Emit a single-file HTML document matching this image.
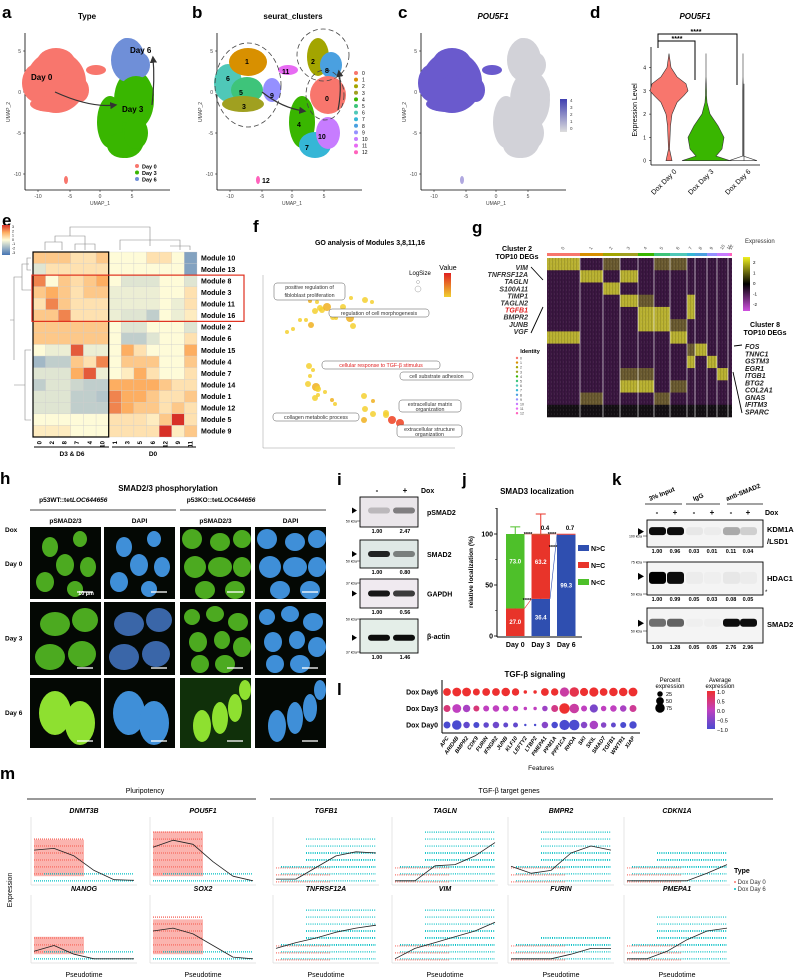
<!DOCTYPE html>
<html><head><meta charset="utf-8"><style>
html,body{margin:0;padding:0;background:#fff}
svg{display:block;font-family:"Liberation Sans",Arial,sans-serif}
.pl{font-size:17px;font-weight:bold}
.t8{font-size:8px;font-weight:bold}
.it{font-style:italic}
</style></head><body>
<svg id="fig" width="799" height="980" viewBox="0 0 799 980" xmlns="http://www.w3.org/2000/svg">
<defs>
<pattern id="noise" width="3" height="4" patternUnits="userSpaceOnUse"><rect x="0" y="0" width="1" height="4" fill="#000" opacity="0.25"/><rect x="2" y="1" width="1" height="2" fill="#fff" opacity="0.12"/></pattern>
<linearGradient id="gBlueRed" x1="0" y1="1" x2="0" y2="0"><stop offset="0" stop-color="#4575b4"/><stop offset="0.5" stop-color="#fefbd8"/><stop offset="0.75" stop-color="#fdae61"/><stop offset="1" stop-color="#d73027"/></linearGradient>
<linearGradient id="gPur" x1="0" y1="1" x2="0" y2="0"><stop offset="0" stop-color="#ddd"/><stop offset="1" stop-color="#3f3fb0"/></linearGradient>
<linearGradient id="gYel" x1="0" y1="1" x2="0" y2="0"><stop offset="0" stop-color="#f0d030"/><stop offset="1" stop-color="#e02020"/></linearGradient>
<linearGradient id="gExp" x1="0" y1="1" x2="0" y2="0"><stop offset="0" stop-color="#d050e0"/><stop offset="0.5" stop-color="#000"/><stop offset="1" stop-color="#f0f020"/></linearGradient>
<linearGradient id="gAvg" x1="0" y1="1" x2="0" y2="0"><stop offset="0" stop-color="#4b4bd0"/><stop offset="0.5" stop-color="#c040c0"/><stop offset="1" stop-color="#ee3030"/></linearGradient>
<marker id="arr" markerWidth="6" markerHeight="6" refX="4" refY="3" orient="auto"><path d="M0,0 L6,3 L0,6 z" fill="#333"/></marker>
</defs>

<text class="pl" x="2" y="18">a</text>
<text class="pl" x="192" y="18">b</text>
<text class="pl" x="398" y="18">c</text>
<text class="pl" x="590" y="18">d</text>
<text class="pl" x="2" y="226">e</text>
<text class="pl" x="253" y="232">f</text>
<text class="pl" x="472" y="233">g</text>
<text class="pl" x="0" y="484">h</text>
<text class="pl" x="337" y="485">i</text>
<text class="pl" x="462" y="485">j</text>
<text class="pl" x="612" y="485">k</text>
<text class="pl" x="337" y="695">l</text>
<text class="pl" x="0" y="779">m</text>

<text class="t8" x="87" y="19" text-anchor="middle">Type</text>
<text class="t8" x="293" y="19" text-anchor="middle">seurat_clusters</text>
<text class="t8 it" x="493" y="19" text-anchor="middle">POU5F1</text>
<text class="t8 it" x="695" y="19" text-anchor="middle">POU5F1</text>

<g id="umaps"></g>
<g id="violin"></g>
<g id="heatE"></g>
<g id="goF"></g>
<g id="heatG"></g>
<g id="imgH"></g>
<g id="blotI"></g>
<g id="chartJ"></g>
<g id="blotK"></g>
<g id="dotL"></g>
<g id="panelM"></g>
</svg>
<script>
const NS='http://www.w3.org/2000/svg';
function mk(tag,attrs,parent){const e=document.createElementNS(NS,tag);for(const k in attrs)e.setAttribute(k,attrs[k]);(parent||document.getElementById('fig')).appendChild(e);return e;}
function tx(s,x,y,size,parent,extra){const e=mk('text',Object.assign({x:x,y:y,'font-size':size},extra||{}),parent);e.textContent=s;return e;}

/* ===== UMAP panels a,b,c ===== */
const U=document.getElementById('umaps');
const clusterNames=['0','1','2','3','4','5','6','7','8','9','10','11','12'];
const clusterColors=['#f8766d','#d89000','#a3a500','#a0a020','#39b600','#3ec47a','#4fc8b8','#35b6d6','#4aa0e0','#9590ff','#c77cff','#e76bf3','#ff62bc'];
const blobs=[[228,83,14,19,6],[248,62,19,14,1],[247,90,16,13,5],[243,104,21,8,3],[272,90,9,12,9],[288,70,10,5,11],[318,57,11,19,2],[331,65,11,13,8],[328,95,18,19,0],[302,122,13,26,4],[315,145,16,13,7],[328,133,12,16,10],[258,180,2,4,12]];
const blobDay=[0,0,0,0,0,0,2,2,1,1,1,1,0];
const dayColors=['#f8766d','#39b600','#6f8fd8'];
// underlay shapes: [cx,cy,rx,ry,day]
const under=[[248,82,30,31,0],[326,100,20,30,1],[318,140,18,18,1],[320,60,17,22,2],[298,125,8,20,2]];
function umapAxes(ox,name){
  const g=mk('g',{},U);
  
  
  mk('line',{x1:ox,y1:33,x2:ox,y2:190,stroke:'#000','stroke-width':0.8},g);
  mk('line',{x1:ox,y1:190,x2:ox+145,y2:190,stroke:'#000','stroke-width':0.8},g);
  const yt=[['5',51],['0',92],['-5',133],['-10',174]];
  yt.forEach(t=>{mk('line',{x1:ox-2,y1:t[1],x2:ox,y2:t[1],stroke:'#000','stroke-width':0.5},g);tx(t[0],ox-4,t[1]+2,5,g,{'text-anchor':'end',fill:'#444'});});
  const xt=[['-10',13],['-5',45],['0',75],['5',107]];
  xt.forEach(t=>{mk('line',{x1:ox+t[1],y1:190,x2:ox+t[1],y2:192,stroke:'#000','stroke-width':0.5},g);tx(t[0],ox+t[1],198,5,g,{'text-anchor':'middle',fill:'#444'});});
  tx('UMAP_1',ox+75,205,5,g,{'text-anchor':'middle',fill:'#444'});
  tx('UMAP_2',0,0,5,g,{'text-anchor':'middle',fill:'#444',transform:'translate('+(ox-15)+',112) rotate(-90)'});
}
function exprCol(day){return day===0?'#6a5acd':'#d2d2d8';}
function drawBlobs(ox,mode){
  if(mode!=='cluster'){
    under.forEach(u=>{
      const e=mk('ellipse',{cx:u[0]+ox,cy:u[1],rx:u[2],ry:u[3],fill:mode==='type'?dayColors[u[4]]:exprCol(u[4])},U);
      
      
    });
  }
  blobs.forEach((b,i)=>{
    let col;
    if(mode==='type')col=dayColors[blobDay[i]];
    else if(mode==='cluster')col=clusterColors[b[4]];
    else col=b[4]===12?'#b0a8e0':exprCol(blobDay[i]);
    const e=mk('ellipse',{cx:b[0]+ox,cy:b[1],rx:b[2],ry:b[3],fill:col},U);
    
    
  });
}
umapAxes(25,'umap-type');
drawBlobs(-192,'type');
let ar=mk('path',{d:'M55,92 Q90,108 115,105',fill:'none',stroke:'#333','stroke-width':1.2,'marker-end':'url(#arr)'},U);


ar=mk('path',{d:'M152,105 Q155,80 153,58',fill:'none',stroke:'#333','stroke-width':1.2,'marker-end':'url(#arr)'},U);


[['Day 0',31,80],['Day 6',130,53],['Day 3',122,112]].forEach(d=>{const t=tx(d[0],d[1],d[2],8,U,{'font-weight':'bold'});});
['Day 0','Day 3','Day 6'].forEach((d,i)=>{
  const c=mk('circle',{cx:137,cy:166+i*6.5,r:2,fill:dayColors[i]},U);
  
  
  const t=tx(d,142,168.5+i*6.5,5.5,U,{'font-weight':'bold'});
  
  
});
umapAxes(217,'umap-clusters');
drawBlobs(0,'cluster');
[[248,85,33,42],[323,55,26,26],[325,95,19,25]].forEach(c=>{const e=mk('ellipse',{cx:c[0],cy:c[1],rx:c[2],ry:c[3],fill:'none',stroke:'#444','stroke-width':0.8,'stroke-dasharray':'5 3'},U);});
ar=mk('path',{d:'M262,92 Q282,108 304,111',fill:'none',stroke:'#333','stroke-width':1.2,'marker-end':'url(#arr)'},U);


ar=mk('path',{d:'M338,110 Q342,90 339,72',fill:'none',stroke:'#333','stroke-width':1.2,'marker-end':'url(#arr)'},U);


[['1',245,64],['6',226,81],['5',239,95],['3',242,109],['9',270,98],['11',282,74],['2',311,64],['8',325,73],['0',325,101],['4',297,127],['7',305,150],['10',318,139],['12',262,183]].forEach(l=>{const t=tx(l[0],l[1],l[2],7,U,{'font-weight':'bold'});});
clusterNames.forEach((n,i)=>{
  const c=mk('circle',{cx:356,cy:73+i*6.6,r:2,fill:clusterColors[i]},U);
  
  
  const t=tx(n,362,75+i*6.6,5,U);
  
  
});
umapAxes(421,'umap-pou5f1');
drawBlobs(204,'expr');
let cb=mk('rect',{x:560,y:99,width:7,height:33,fill:'url(#gPur)'},U);


['4','3','2','1','0'].forEach((s,i)=>{const t=tx(s,570,102+i*7,4.5,U,{fill:'#444'});});

/* ===== Violin d ===== */
const V=document.getElementById('violin');
const vGroups=['Dox Day 0','Dox Day 3','Dox Day 6'];
const vColors=['#f8766d','#39b600','#619cff'];
const vLevels=[0,0.2,0.5,1,1.5,2,2.5,2.8,3,3.3,3.6,4,4.6];
const vWidth0=[3,2,0.5,1,1.5,3,8,15,19,17,8,2,0];
const vWidth1=[24,10,16,18,12,4,1,0.5,0.5,0.3,0,0,0];
const vWidth2=[14,0.3,0.3,0.3,0.3,0.3,0.3,0.3,0.3,0.2,0,0,0];
const vW=[vWidth0,vWidth1,vWidth2];
const vY=v=>160.7-v*23.3;
const vX=i=>669+i*37;
mk('line',{x1:651,y1:47,x2:651,y2:165,stroke:'#000','stroke-width':0.8},V);
mk('line',{x1:651,y1:165,x2:760,y2:165,stroke:'#000','stroke-width':0.8},V);
[0,1,2,3,4].forEach(v=>{mk('line',{x1:649,y1:vY(v),x2:651,y2:vY(v),stroke:'#000','stroke-width':0.5},V);tx(String(v),646,vY(v)+2,5,V,{'text-anchor':'end'});});
tx('Expression Level',0,0,7,V,{'text-anchor':'middle',transform:'translate(637,110) rotate(-90)'});
vGroups.forEach((g,i)=>{
  const w=vW[i];let d='M'+vX(i)+','+vY(vLevels[0]);
  for(let k=0;k<vLevels.length;k++)d+=' L'+(vX(i)+w[k])+','+vY(vLevels[k]);
  for(let k=vLevels.length-1;k>=0;k--)d+=' L'+(vX(i)-w[k])+','+vY(vLevels[k]);
  const p=mk('path',{d:d+'Z',fill:i===2?'none':vColors[i],stroke:'#333','stroke-width':0.6},V);
  
  
  const t=tx(g,0,0,7,V,{'text-anchor':'end',transform:'translate('+(vX(i)+8)+',172) rotate(-45)'});
  
  
});
mk('line',{x1:744,y1:vY(0),x2:744,y2:vY(3.3),stroke:'#333','stroke-width':0.6},V);
let br=mk('path',{d:'M658,48 L658,41 L695,41 L695,80',fill:'none',stroke:'#000','stroke-width':1},V);


br=mk('path',{d:'M658,41 L658,34 L737,34 L737,85',fill:'none',stroke:'#000','stroke-width':1},V);


tx('****',677,41,7,V,{'text-anchor':'middle','font-weight':'bold'});
tx('****',696,34,7,V,{'text-anchor':'middle','font-weight':'bold'});

/* ===== Heatmap e ===== */
const E=document.getElementById('heatE');
const eCols=['0','2','8','7','4','10','1','3','5','6','12','9','11'];
const eRows=['Module 10','Module 13','Module 8','Module 3','Module 11','Module 16','Module 2','Module 6','Module 15','Module 4','Module 7','Module 14','Module 1','Module 12','Module 5','Module 9'];
const eVals=[
[1,1,1,0.5,0.5,1,0,0,0,0.5,0.5,0,-2],
[-0.5,0.5,0.5,0.5,0.5,0.5,0,0,0,0,0,0,-2],
[2,0,1,0.6,1,1.5,0,-0.5,-0.5,-0.5,0,0,-0.5],
[1,1.5,1,0.5,1,1,-0.3,-0.3,-0.3,-0.3,0,0,0.5],
[0.5,2,1,0.5,0.5,0.5,-0.3,-0.3,-0.3,-0.3,0,-0.3,0.5],
[1,1,2,0.5,0.5,0.5,-0.3,-0.5,-0.5,-1,0,-0.3,0.3],
[1,1,1,1,1,1,0,-0.5,-0.5,0,0,0,-0.5],
[1,1,1,1,1,1,0,-1,-1,-0.5,0,0,0.5],
[0,-0.3,-0.3,2.5,-0.3,-0.3,0,1.5,0.5,0,0,0,1.5],
[-1.5,-1,-1,1,0.5,2,0,1,1,1,0,0,1],
[-0.5,-0.5,-0.5,1.5,2.5,-0.3,0,0.3,1.5,0.5,0,0,0.5],
[-1,-0.5,-0.5,-0.8,-1,-1,1.5,1.5,1.5,1.5,1,0.5,0.5],
[-0.5,-0.5,-0.5,-1,-1,-1.2,2,1.5,1.5,1,0.5,0.5,1],
[-0.5,-0.5,-0.5,-1,-1,-1,2,1.5,1,1,0.5,1,0.5],
[0,0,0,0,0,0,0.5,0.5,0.5,0.3,1,3,0.5],
[0.3,0.3,0.3,0,0,0,0.5,0.5,0.5,0.5,3,0.3,1]];
function lerp(a,b,t){return a.map((v,i)=>Math.round(v+(b[i]-v)*t));}
function heatColor(v){const w=[254,251,216],o=[253,174,97],r=[215,48,39],bl=[69,117,180];let c;
 if(v<0)c=lerp(w,bl,Math.min(1,-v/3));else if(v<1.5)c=lerp(w,o,v/1.5);else c=lerp(o,r,Math.min(1,(v-1.5)/1.5));return 'rgb('+c.join(',')+')';}
const eX0=33,eY0=252,eCW=164/13,eRH=185/16;
eRows.forEach((rn,r)=>{
  eCols.forEach((cn,c)=>{
    const cell=mk('rect',{x:eX0+c*eCW,y:eY0+r*eRH,width:eCW,height:eRH,fill:heatColor(eVals[r][c]),stroke:'#ccc','stroke-width':0.3},E);
    
    
  });
  const t=tx(rn,201,eY0+r*eRH+eRH/2+2.5,7,E,{'font-weight':'bold'});
  
  
});
eCols.forEach((cn,c)=>{const t=tx(cn,0,0,6,E,{'text-anchor':'end','font-weight':'bold',transform:'translate('+(eX0+c*eCW+eCW/2+2)+',441) rotate(-90)'});});
mk('rect',{x:eX0,y:eY0,width:eCW*6,height:eRH*16,fill:'none',stroke:'#000','stroke-width':1.2},E);
let rb=mk('rect',{x:eX0-1,y:eY0+eRH*2,width:245-eX0,height:eRH*4,fill:'none',stroke:'#e0301e','stroke-width':1.2},E);


mk('line',{x1:34,y1:447,x2:109,y2:447,stroke:'#000','stroke-width':1},E);
mk('line',{x1:112,y1:447,x2:196,y2:447,stroke:'#000','stroke-width':1},E);
tx('D3 & D6',72,456,6.5,E,{'text-anchor':'middle','font-weight':'bold'});
tx('D0',153,456,6.5,E,{'text-anchor':'middle','font-weight':'bold'});
mk('path',{d:'M45,250 V242 H62 V250 M55,242 V236 H85 V250 M75,250 V244 H95 V250 M70,236 V227 H150 V240 M120,250 V240 H180 V250 M150,240 V246 M170,246 H190 V250',fill:'none',stroke:'#888','stroke-width':0.6},E);
mk('path',{d:'M31,258 H27 V270 H31 M29,264 H22 V290 H31 M22,277 H14 V360 M31,350 H25 V420 H31 M25,385 H14 M14,320 H10',fill:'none',stroke:'#888','stroke-width':0.6},E);
let ecb=mk('rect',{x:2,y:225,width:8,height:30,fill:'url(#gBlueRed)'},E);


['3','2','1','0','-1','-2','-3'].forEach((s,i)=>tx(s,12,228+i*4.3,3.5,E));

/* ===== GO f ===== */
const F=document.getElementById('goF');
tx('GO analysis of Modules 3,8,11,16',370,245,7,F,{'text-anchor':'middle','font-weight':'bold'});
mk('line',{x1:263,y1:275,x2:263,y2:448,stroke:'#999','stroke-width':0.5},F);
mk('line',{x1:263,y1:448,x2:455,y2:448,stroke:'#999','stroke-width':0.5},F);
const goX=[310,317,320,315,322,327,336,333,300,306,311,293,287,340,343,350,353,351,365,372,392,309,313,310,308,316,318,325,315,318,332,335,365,373,364,364,386,400,392,386,373];
const goY=[301,302,308,311,310,307,318,317,320,320,325,329,332,292,307,318,326,298,300,302,363,366,370,376,384,387,389,392,398,395,400,404,409,414,396,420,413,423,420,415,401];
const goR=[2,2,3,3,3,4,2,3,2,2,3,2,2,2,3,4,3,2,3,2,2,3,2,2,3,4,3,2,3,2,2,2,3,3,3,3,3,4,4,3,2];
goX.forEach((x,i)=>{const c=mk('circle',{cx:x,cy:goY[i],r:goR[i],fill:i===37||i===38?'#ee4020':(i%5===0?'#f0b020':'#f5d030'),opacity:0.85},F);});
const goLabels=[['positive regulation of',274,283,71,17,'fibloblast proliferation','#333'],['regulation of cell morphogenesis',329,309,100,8,'','#333'],['cellular response to TGF-β stimulus',322,361,118,8,'','#e02020'],['cell substrate adhesion',400,372,73,8,'','#333'],['extracellular matrix',399,400,62,12,'organization','#333'],['extracellular structure',397,425,65,12,'organization','#333'],['collagen metabolic process',273,413,86,8,'','#333']];
goLabels.forEach(l=>{
  const r=mk('rect',{x:l[1],y:l[2],width:l[3],height:l[4],rx:3,fill:'#fff',stroke:'#555','stroke-width':0.5},F);
  
  
  tx(l[0],l[1]+l[3]/2,l[2]+6,5.3,F,{'text-anchor':'middle',fill:l[6]});
  if(l[5])tx(l[5],l[1]+l[3]/2,l[2]+(l[4]>12?14:11),5.3,F,{'text-anchor':'middle',fill:l[6]});
});
tx('LogSize',420,275,6,F,{'text-anchor':'middle'});
mk('circle',{cx:418,cy:282,r:1.5,fill:'none',stroke:'#888','stroke-width':0.4},F);
mk('circle',{cx:418,cy:289,r:3,fill:'none',stroke:'#888','stroke-width':0.4},F);
tx('Value',448,270,7,F,{'text-anchor':'middle'});
let fcb=mk('rect',{x:444,y:273,width:7,height:24,fill:'url(#gYel)'},F);



/* ===== Heatmap g ===== */
const G=document.getElementById('heatG');
const gBounds=[547,580,603,620,638,654,670,687,695,707,717,728,730,732];
const gRowsTop=258,gRowsBot=417,gBlocks=13;
const gHigh=[[0,0],[1,1],[1,3],[2,2],[3,3],[3,7],[4,4],[4,5],[5,4],[5,5],[6,0],[6,6],[7,8],[8,9],[9,10],[10,3],[10,4],[4,7],[8,7]];
const gMid=[[0,2],[0,5],[0,6],[5,6],[3,4],[9,4],[9,3],[7,7],[10,6],[11,1],[11,5]];
for(let c=0;c<13;c++){
  for(let b=0;b<gBlocks;b++){
    const yh=(gRowsBot-gRowsTop)/gBlocks;
    let col='#3a1640';
    if(gHigh.some(h=>h[0]===b&&h[1]===c))col='#b8b030';
    else if(gMid.some(h=>h[0]===b&&h[1]===c))col='#6a5a30';
    if(b===12)col='#141014';
    const r=mk('rect',{x:gBounds[c],y:gRowsTop+b*yh,width:gBounds[c+1]-gBounds[c],height:yh+0.3,fill:col},G);
    
    
  }
  const bar=mk('rect',{x:gBounds[c],y:253,width:gBounds[c+1]-gBounds[c],height:3,fill:clusterColors[c]},G);
  
  
  const t=tx(clusterNames[c],0,0,4.5,G,{transform:'translate('+((gBounds[c]+gBounds[c+1])/2)+',250) rotate(-60)',fill:'#444'});
  
  
}
mk('rect',{x:547,y:gRowsTop,width:185,height:gRowsBot-gRowsTop,fill:'url(#noise)',opacity:0.45},G);
gBounds.slice(1,12).forEach(x=>mk('line',{x1:x,y1:gRowsTop,x2:x,y2:gRowsBot,stroke:'#fff','stroke-width':0.6},G));
tx('Expression',745,243,6,G,{'fill':'#333'});
let gcb=mk('rect',{x:743,y:257,width:7,height:54,fill:'url(#gExp)'},G);


['2','1','0','-1','-2'].forEach((s,i)=>tx(s,753,264+i*10.5,4.5,G));
tx('Cluster 2',517,251,7,G,{'text-anchor':'middle','font-weight':'bold'});
tx('TOP10 DEGs',517,259,7,G,{'text-anchor':'middle','font-weight':'bold'});
const c2Genes=['VIM','TNFRSF12A','TAGLN','S100A11','TIMP1','TAGLN2','TGFB1','BMPR2','JUNB','VGF'];
c2Genes.forEach((g,i)=>{const t=tx(g,528,270+i*7.1,7,G,{'text-anchor':'end','font-style':'italic','font-weight':'bold',fill:g==='TGFB1'?'#e02020':'#333'});});
mk('path',{d:'M531,267 L543,280 M531,333 L543,307',stroke:'#000','stroke-width':0.9,fill:'none'},G);
tx('Cluster 8',765,327,7,G,{'text-anchor':'middle','font-weight':'bold'});
tx('TOP10 DEGs',765,335,7,G,{'text-anchor':'middle','font-weight':'bold'});
const c8Genes=['FOS','TNNC1','GSTM3','EGR1','ITGB1','BTG2','COL2A1','GNAS','IFITM3','SPARC'];
c8Genes.forEach((g,i)=>{const t=tx(g,745,349+i*7.25,7,G,{'font-style':'italic','font-weight':'bold',fill:'#222'});});
mk('path',{d:'M742,345 L734,346 M742,413 L733,372',stroke:'#000','stroke-width':0.9,fill:'none'},G);
tx('Identity',530,353,5.5,G,{'text-anchor':'middle','font-weight':'bold'});
clusterNames.forEach((n,i)=>{mk('circle',{cx:517,cy:358+i*4.6,r:1.2,fill:clusterColors[i]},G);tx(n,520,359.5+i*4.6,3.5,G,{fill:'#444'});});

/* ===== Images h ===== */
const H=document.getElementById('imgH');
tx('SMAD2/3 phosphorylation',168,491,8,H,{'text-anchor':'middle','font-weight':'bold'});
tx('p53WT::tet',72,502,6.5,H,{'text-anchor':'end','font-weight':'bold'});
tx('LOC644656',72,502,6.5,H,{'font-weight':'bold','font-style':'italic'});
tx('p53KO::tet',220,502,6.5,H,{'text-anchor':'end','font-weight':'bold'});
tx('LOC644656',220,502,6.5,H,{'font-weight':'bold','font-style':'italic'});
mk('line',{x1:30,y1:510,x2:176,y2:510,stroke:'#444','stroke-width':1},H);
mk('line',{x1:180,y1:510,x2:326,y2:510,stroke:'#444','stroke-width':1},H);
const hCols=[30,104,180,255],hW=71;
const hRows=[527,602,678],hH=[72,73,70];
['pSMAD2/3','DAPI','pSMAD2/3','DAPI'].forEach((s,i)=>tx(s,hCols[i]+hW/2,523,6.5,H,{'text-anchor':'middle','font-weight':'bold'}));
tx('Dox',5,532,6.5,H,{'font-weight':'bold'});
['Day 0','Day 3','Day 6'].forEach((s,i)=>tx(s,5,hRows[i]+hH[i]/2+(i===0?3:2),6.5,H,{'font-weight':'bold'}));
const nuclei=[
 [[20,20,8,10],[50,12,7,8],[35,38,9,11],[58,40,8,10],[15,55,9,10],[45,62,8,8]],
 [[25,22,15,12],[55,18,13,12],[20,55,15,13],[52,52,14,13]],
 [[25,35,16,22],[50,45,15,22]]];
const nucleiKO=[
 [[12,12,10,10],[40,15,10,9],[62,12,9,9],[15,40,11,11],[40,40,12,10],[62,40,9,10],[25,63,10,9],[55,63,10,9]],
 [[12,15,8,8],[35,12,9,8],[58,20,10,9],[18,40,9,10],[42,38,8,9],[62,45,9,10],[20,62,9,9],[45,62,10,9]],
 [[22,48,9,16],[40,40,8,16],[55,30,7,14],[65,12,6,10]]];
hRows.forEach((y,r)=>{
  hCols.forEach((x,c)=>{
    const bg=mk('rect',{x:x,y:y,width:hW,height:hH[r],fill:(r===2&&c===2)?'#10300a':'#040804'},H);
    
    
    const green=(c%2===0);
    const nn=c<2?nuclei[r]:nucleiKO[r];
    nn.forEach(n=>{
      const col=green?(r===2?'#8ee030':'#4caa20'):(r===1&&c===1?'#3a66a8':'#3f8fd8');
      const e=mk('ellipse',{cx:x+n[0],cy:y+n[1],rx:n[2],ry:n[3],fill:col},H);
      
      
    });
    mk('line',{x1:x+hW-24,y1:y+hH[r]-7,x2:x+hW-8,y2:y+hH[r]-7,stroke:'#fff','stroke-width':1.3},H);
  });
});
tx('10 µm',86,595,5.5,H,{'text-anchor':'middle',fill:'#fff','font-weight':'bold'});

/* ===== Blots i ===== */
const I=document.getElementById('blotI');
tx('-',377,493,8,I,{'text-anchor':'middle','font-weight':'bold'});
tx('+',405,493,8,I,{'text-anchor':'middle','font-weight':'bold'});
tx('Dox',421,493,7,I,{'font-weight':'bold'});
const iBlots=['pSMAD2','SMAD2','GAPDH','β-actin'];
const iTop=[497,540,579,619],iBot=[527,568,608,653];
const iBg=['#eae6ea','#dfe8e6','#f0eaf0','#e4eee8'];
const iNumB=['2.47','0.80','0.56','1.46'];
const iBandA=[0.2,0.85,0.9,0.95],iBandB=[0.45,0.45,0.75,0.95];
const iBandY=[0.45,0.5,0.5,0.55];
iBlots.forEach((b,k)=>{
  const h=iBot[k]-iTop[k];
  const r=mk('rect',{x:360,y:iTop[k],width:58,height:h,fill:iBg[k],stroke:'#000','stroke-width':0.9},I);
  
  
  [[368,iBandA[k]],[393,iBandB[k]]].forEach(bd=>mk('rect',{x:bd[0],y:iTop[k]+h*iBandY[k]-3,width:22,height:6,rx:3,fill:'#000',opacity:bd[1]},I));
  mk('path',{d:'M352,'+(iTop[k]+h*iBandY[k]-3)+' l5,3 l-5,3z',fill:'#000'},I);
  tx('1.00',377,iBot[k]+6,5.5,I,{'text-anchor':'middle','font-weight':'bold'});
  tx(iNumB[k],405,iBot[k]+6,5.5,I,{'text-anchor':'middle','font-weight':'bold'});
  const t=tx(b,427,(iTop[k]+iBot[k])/2+3,7,I,{'font-weight':'bold'});
  
  
});
[['50 kDa',521],['50 kDa',561],['37 kDa',583],['50 kDa',619],['37 kDa',652]].forEach(m=>{tx(m[0],357,m[1]+1.5,3.5,I,{'text-anchor':'end'});mk('line',{x1:357,y1:m[1],x2:360,y2:m[1],stroke:'#000','stroke-width':0.5},I);});

/* ===== Chart j ===== */
const J=document.getElementById('chartJ');
const jDays=['Day 0','Day 3','Day 6'];
const jNgtC=[0,36.4,99.3];
const jNeqC=[27.0,63.2,0.7];
const jNltC=[73.0,0.4,0];
const jErrBlue=[0,17,0];
const jErrRed=[7,20,0];
const jErrGreen=[7,0,0];
const jTicks=[0,50,100];
const jSeriesNames=['N>C','N=C','N<C'];
const jSeriesColors=['#2f4fb0','#e8342a','#4ec02a'];
const jy=v=>636-v*1.02;
const jx=i=>506+i*25.5;
const jBW=18.5;
tx('SMAD3 localization',537,494,8,J,{'text-anchor':'middle','font-weight':'bold'});
mk('line',{x1:497,y1:508,x2:497,y2:637,stroke:'#000','stroke-width':1},J);
mk('line',{x1:497,y1:637,x2:582,y2:637,stroke:'#000','stroke-width':1},J);
jTicks.forEach(t=>{mk('line',{x1:494,y1:jy(t),x2:497,y2:jy(t),stroke:'#000','stroke-width':0.8},J);tx(String(t),493,jy(t)+2.5,7,J,{'text-anchor':'end','font-weight':'bold'});});
[25,75,125].forEach(t=>mk('line',{x1:495,y1:jy(t),x2:497,y2:jy(t),stroke:'#000','stroke-width':0.5},J));
tx('relative localization (%)',0,0,6.5,J,{'text-anchor':'middle','font-weight':'bold',transform:'translate(473,572) rotate(-90)'});
const jSeries=[jNgtC,jNeqC,jNltC];
const jErr=[jErrBlue,jErrRed,jErrGreen];
jDays.forEach((d,i)=>{
  let base=0;
  jSeries.forEach((s,k)=>{
    const v=s[i];
    if(v>0){
      const r=mk('rect',{x:jx(i),y:jy(base+v),width:jBW,height:v*1.02,fill:jSeriesColors[k]},J);
      
      
      if(jErr[k][i]>0){
        const top=base+v;
        mk('line',{x1:jx(i)+jBW/2,y1:jy(top),x2:jx(i)+jBW/2,y2:jy(top+jErr[k][i]),stroke:jSeriesColors[k],'stroke-width':1},J);
        mk('line',{x1:jx(i)+jBW/2-5,y1:jy(top+jErr[k][i]),x2:jx(i)+jBW/2+5,y2:jy(top+jErr[k][i]),stroke:jSeriesColors[k],'stroke-width':1},J);
      }
      if(v>=20){
        const t=tx(v.toFixed(1),jx(i)+jBW/2,jy(base+(k===2||(k===1&&i===1)?v-27:v/2))+2,6,J,{'text-anchor':'middle',fill:'#fff','font-weight':'bold'});
        
        
      }
    }
    base+=v;
  });
  const t=tx(d,jx(i)+jBW/2,647,7,J,{'text-anchor':'middle','font-weight':'bold'});
  
  
});
mk('line',{x1:jx(0)+jBW,y1:jy(jNeqC[0]),x2:jx(1),y2:jy(jNgtC[1]),stroke:'#e8342a','stroke-width':0.6},J);
mk('line',{x1:jx(1)+jBW,y1:jy(jNgtC[1]),x2:jx(2),y2:jy(jNgtC[2]),stroke:'#2f4fb0','stroke-width':0.6},J);
mk('line',{x1:jx(0)+jBW,y1:jy(100),x2:jx(2)+jBW,y2:jy(100),stroke:'#e8342a','stroke-width':0.5},J);
tx('****',528,536,5.5,J,{'text-anchor':'middle','font-weight':'bold'});
tx('****',552,536,5.5,J,{'text-anchor':'middle','font-weight':'bold'});
tx('****',553,549,5.5,J,{'text-anchor':'middle','font-weight':'bold'});
tx('****',527,602,5.5,J,{'text-anchor':'middle','font-weight':'bold'});
tx('0.4',545,530,6,J,{'text-anchor':'middle','font-weight':'bold'});
tx('0.7',570,530,6,J,{'text-anchor':'middle','font-weight':'bold'});
jSeriesNames.forEach((n,k)=>{
  const r=mk('rect',{x:578,y:545+k*17,width:11,height:6,fill:jSeriesColors[k]},J);
  
  
  const t=tx(n,591,551+k*17,7,J,{'font-weight':'bold'});
  
  
});

/* ===== Blots k ===== */
const K=document.getElementById('blotK');
[['3% Input',650,501],['IgG',694,501],['anti-SMAD2',727,501]].forEach(h=>tx(h[0],0,0,6.5,K,{'font-weight':'bold',transform:'translate('+h[1]+','+h[2]+') rotate(-22)'}));
[[645,682],[686,720],[727,763]].forEach(l=>mk('line',{x1:l[0],y1:504,x2:l[1],y2:504,stroke:'#444','stroke-width':1},K));
const kLanes=[657,675,694,712,731,748];
kLanes.forEach((x,i)=>tx(i%2?'+':'-',x,515,8,K,{'text-anchor':'middle','font-weight':'bold'}));
tx('Dox',765,515,7,K,{'font-weight':'bold'});
const kNames=['KDM1A','HDAC1','SMAD2'];
const kTop=[520,562,608],kBot=[547,595,643];
const kNums=[['1.00','0.96','0.03','0.01','0.11','0.04'],['1.00','0.99','0.05','0.03','0.08','0.05'],['1.00','1.28','0.05','0.05','2.76','2.96']];
const kBands=[[0.95,0.95,0.05,0.03,0.3,0.15],[1,0.95,0.03,0.02,0.05,0.03],[0.55,0.6,0.02,0.02,0.95,0.95]];
kNames.forEach((n,k)=>{
  const h=kBot[k]-kTop[k];
  const r=mk('rect',{x:647,y:kTop[k],width:116,height:h,fill:'#f4f4f4',stroke:'#000','stroke-width':0.9},K);
  
  
  kLanes.forEach((x,i)=>{const b=mk('rect',{x:x-8,y:kTop[k]+h*0.45-5,width:17,height:k===1?12:8,rx:3,fill:'#000',opacity:kBands[k][i]},K);});
  mk('path',{d:'M638,'+(kTop[k]+h*0.45-4)+' l6,3.5 l-6,3.5z',fill:'#000'},K);
  kNums[k].forEach((s,i)=>tx(s,kLanes[i],kBot[k]+6,5.5,K,{'text-anchor':'middle','font-weight':'bold'}));
});
tx('KDM1A',767,532,7.5,K,{'font-weight':'bold'});
tx('/LSD1',767,544,7.5,K,{'font-weight':'bold'});
tx('HDAC1',767,581,7.5,K,{'font-weight':'bold'});
tx('SMAD2',767,627,7.5,K,{'font-weight':'bold'});
tx('*',765,594,6,K);
[['100 kDa',536],['75 kDa',562],['50 kDa',594],['50 kDa',631]].forEach(m=>{tx(m[0],642,m[1]+1.5,3.5,K,{'text-anchor':'end'});mk('line',{x1:643,y1:m[1],x2:647,y2:m[1],stroke:'#000','stroke-width':0.5},K);});

/* ===== Dot plot l ===== */
const L=document.getElementById('dotL');
const lFeatures=['APC','ARID4B','BMPR2','CDK9','FURIN','IFNGR2','JUNB','KLF10','LEFTY2','LTBP2','PMEPA1','PPM1A','PPP1CA','RHOA','SKI','SKIL','SMAD7','TGFB1','WWTR1','XIAP'];
const lGroups=['Dox Day6','Dox Day3','Dox Day0'];
const lPctDay6=[50,65,65,40,50,50,60,45,10,10,50,45,70,75,55,70,50,60,60,65];
const lPctDay3=[40,65,45,30,30,35,30,25,10,10,25,40,90,75,30,55,25,35,35,40];
const lPctDay0=[40,75,35,30,25,35,20,20,5,5,35,35,85,90,35,60,25,20,30,45];
const lAvgDay6=[1,1,1,1,1,1,1,1,1,1,1,1,0.2,0.8,1,1,1,1,1,1];
const lAvgDay3=[0.5,0,-0.2,0.5,0,0,0,0,0,0,-0.3,0.4,1,0.2,0,-0.6,0,0,-0.2,0.3];
const lAvgDay0=[-1,-1,-0.8,-1,-0.8,-0.7,-0.8,-0.8,-1,-1,-0.5,-1,-1,-1,-0.5,-0.2,-0.5,-0.8,-1,-1];
const lPct=[lPctDay6,lPctDay3,lPctDay0],lAvg=[lAvgDay6,lAvgDay3,lAvgDay0];
const lx=i=>447+i*(186/19);
const ly=r=>692+r*16.5;
function avgColor(v){const b=[75,75,208],m=[192,64,192],r=[238,48,48];const c=v<0?lerp(m,b,-v):lerp(m,r,v);return 'rgb('+c.join(',')+')';}
tx('TGF-β signaling',535,677,8,L,{'text-anchor':'middle','font-weight':'bold'});
mk('line',{x1:442,y1:680,x2:442,y2:733,stroke:'#000','stroke-width':1},L);
mk('line',{x1:442,y1:733,x2:640,y2:733,stroke:'#000','stroke-width':1},L);
lGroups.forEach((g,r)=>{
  const t=tx(g,438,ly(r)+2.5,7,L,{'text-anchor':'end','font-weight':'bold'});
  
  
  lFeatures.forEach((f,i)=>{
    const c=mk('circle',{cx:lx(i),cy:ly(r),r:Math.sqrt(lPct[r][i]/100)*5.5,fill:avgColor(lAvg[r][i])},L);
    
    
  });
});
lFeatures.forEach((f,i)=>{const t=tx(f,0,0,5.5,L,{'text-anchor':'end','font-style':'italic','font-weight':'bold',transform:'translate('+(lx(i)+2)+',738) rotate(-55)'});});
tx('Features',541,770,6.5,L,{'text-anchor':'middle'});
tx('Percent',670,682,6,L,{'text-anchor':'middle'});
tx('expression',670,688,6,L,{'text-anchor':'middle'});
[25,50,75].forEach((p,i)=>{mk('circle',{cx:660,cy:694+i*7,r:Math.sqrt(p/100)*5.5,fill:'#000'},L);tx(String(p),666,696+i*7,5.5,L);});
tx('Average',720,682,6,L,{'text-anchor':'middle'});
tx('expression',720,688,6,L,{'text-anchor':'middle'});
let lcb=mk('rect',{x:707,y:691,width:8,height:38,fill:'url(#gAvg)'},L);


['1.0','0.5','0.0','−0.5','−1.0'].forEach((s,i)=>tx(s,717,694+i*9.5,5.5,L));

/* ===== Panel m ===== */
const M=document.getElementById('panelM');
tx('Pluripotency',145,793,7,M,{'text-anchor':'middle'});
tx('TGF-β target genes',509,793,7,M,{'text-anchor':'middle'});
mk('line',{x1:27,y1:799,x2:256,y2:799,stroke:'#333','stroke-width':1},M);
mk('line',{x1:270,y1:799,x2:773,y2:799,stroke:'#333','stroke-width':1},M);
tx('Expression',0,0,7,M,{'text-anchor':'middle',transform:'translate(12,890) rotate(-90)'});
const mGenes=['DNMT3B','POU5F1','TGFB1','TAGLN','BMPR2','CDKN1A','NANOG','SOX2','TNFRSF12A','VIM','FURIN','PMEPA1'];
const mCurveT=[0,0.2,0.4,0.6,0.8,1];
const mCurveDNMT3B=[.55,.58,.45,.2,.04,.03];
const mCurvePOU5F1=[.6,.72,.65,.35,.1,.02];
const mCurveTGFB1=[.05,.05,.25,.45,.52,.5];
const mCurveTAGLN=[.02,.02,.28,.3,.45,.68];
const mCurveBMPR2=[.27,.15,.2,.5,.62,.55];
const mCurveCDKN1A=[.02,.02,.02,.02,.15,.3];
const mCurveNANOG=[.15,.25,.1,.02,.02,.02];
const mCurveSOX2=[.5,.55,.45,.25,.05,.02];
const mCurveTNFRSF12A=[.2,.3,.38,.48,.55,.6];
const mCurveVIM=[.02,.2,.3,.4,.5,.65];
const mCurveFURIN=[.02,.02,.02,.1,.2,.2];
const mCurvePMEPA1=[.02,.02,.15,.35,.5,.55];
const mCurves=[mCurveDNMT3B,mCurvePOU5F1,mCurveTGFB1,mCurveTAGLN,mCurveBMPR2,mCurveCDKN1A,mCurveNANOG,mCurveSOX2,mCurveTNFRSF12A,mCurveVIM,mCurveFURIN,mCurvePMEPA1];
const mColX=[31,150,273,392,508,624],mW=106;
const mRowY=[817,895],mH=68;
mGenes.forEach((g,k)=>{
  const col=k%6,row=Math.floor(k/6);
  const x0=mColX[col],y0=mRowY[row];
  const plur=col<2;
  const gg=mk('g',{},M);
  
  
  mk('line',{x1:x0,y1:y0,x2:x0,y2:y0+mH,stroke:'#ccc','stroke-width':0.5},gg);
  mk('line',{x1:x0,y1:y0+mH,x2:x0+mW,y2:y0+mH,stroke:'#ccc','stroke-width':0.5},gg);
  tx(g,x0+mW/2,y0-4,7,gg,{'text-anchor':'middle','font-style':'italic','font-weight':'bold'});
  const mx=t=>x0+3+t*(mW-6), my=v=>y0+mH-3-v*(mH-10);
  const levels=[0.02,0.14,0.26,0.38,0.5,0.62,0.74,0.86];
  const top=Math.max(...mCurves[k]);
  if(plur){
    const rr=mk('rect',{x:mx(0),y:my(top+0.15),width:mx(0.5)-mx(0),height:my(0.1)-my(top+0.15),fill:'#f8766d',opacity:0.55},gg);
    
    
  }
  levels.forEach((lv,li)=>{
    if(plur){
      if(lv<top+0.25&&li>0){const s=mk('line',{x1:mx(0),y1:my(lv),x2:mx(0.5),y2:my(lv),stroke:'#f8766d','stroke-width':1.5,'stroke-dasharray':'1 1'},gg);}
      if(li<2){const s=mk('line',{x1:mx(li?0.1:0),y1:my(lv),x2:mx(1),y2:my(lv),stroke:'#00bfc4','stroke-width':1.2,'stroke-dasharray':'1 1'},gg);}
    }else{
      if(lv<top+0.3){const s=mk('line',{x1:mx(li<3?0.05:0.3),y1:my(lv),x2:mx(1),y2:my(lv),stroke:'#00bfc4','stroke-width':li>1&&li<5?1.8:1.2,'stroke-dasharray':'1 1.2'},gg);}
      if(li<3){const s=mk('line',{x1:mx(0),y1:my(lv)+1,x2:mx(0.55),y2:my(lv)+1,stroke:'#f8766d','stroke-width':1.2,'stroke-dasharray':'1 1.2'},gg);}
    }
  });
  let d='';
  mCurveT.forEach((t,i)=>{d+=(i?' L':'M')+mx(t).toFixed(1)+','+my(mCurves[k][i]).toFixed(1);});
  const cv=mk('path',{d:d,fill:'none',stroke:'#222','stroke-width':0.8,'stroke-linejoin':'round'},gg);
  
  
  if(row===1)tx('Pseudotime',x0+mW/2,977,7,gg,{'text-anchor':'middle'});
});
tx('Type',734,873,7,M,{'font-weight':'bold'});
tx('· Dox Day 0',734,884,6,M,{fill:'#333'});
tx('· Dox Day 6',734,891,6,M,{fill:'#333'});
mk('circle',{cx:735,cy:882,r:1,fill:'#f8766d'},M);
mk('circle',{cx:735,cy:889,r:1,fill:'#00bfc4'},M);
</script>
</body></html>
